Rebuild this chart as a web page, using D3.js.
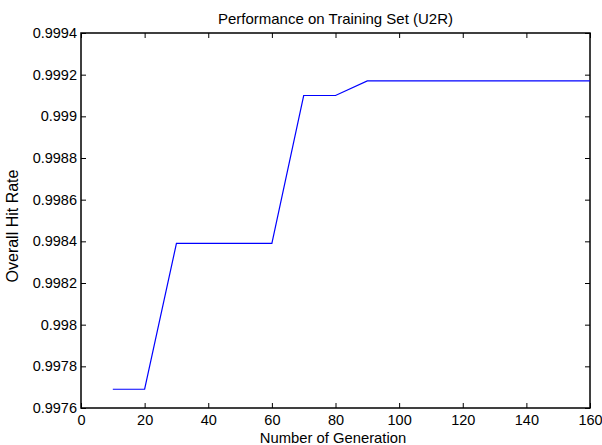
<!DOCTYPE html>
<html>
<head>
<meta charset="utf-8">
<script src="https://cdn.jsdelivr.net/npm/d3@7"></script>
<style>
  body { margin: 0; background: #fff; }
  svg { display: block; }
  text { font-family: "Liberation Sans", Arial, Helvetica, sans-serif; fill: #000; }
</style>
</head>
<body>
<svg id="chart" width="602" height="445"></svg>
<script>
// Best overall hit rate per generation
const generations = [10, 20, 30, 40, 50, 60, 70, 80, 90, 100, 110, 120, 130, 140, 150, 160];
const hitRates = [0.99769, 0.99769, 0.99839, 0.99839, 0.99839, 0.99839, 0.99910, 0.99910,
                  0.99917, 0.99917, 0.99917, 0.99917, 0.99917, 0.99917, 0.99917, 0.99917];
const xTicks = [0, 20, 40, 60, 80, 100, 120, 140, 160];
const yTicks = [0.9976, 0.9978, 0.998, 0.9982, 0.9984, 0.9986, 0.9988, 0.999, 0.9992, 0.9994];

const titleText = "Performance on Training Set (U2R)";
const xLabel = "Number of Generation";
const yLabel = "Overall Hit Rate";

const svg = d3.select("#chart");
const margin = { left: 81, right: 12, top: 33, bottom: 37 };
const W = 602, H = 445;
const x0 = margin.left, x1 = W - margin.right;
const y0 = H - margin.bottom, y1 = margin.top;

const x = d3.scaleLinear().domain([0, 160]).range([x0, x1]);
const y = d3.scaleLinear().domain([0.9976, 0.9994]).range([y0, y1]);

const fmtY = d => String(+d.toFixed(4));
const tickLen = 5;
const tickFont = 14.5;

// bottom axis (labels) and top axis (ticks only), ticks point inward
svg.append("g").attr("transform", `translate(0,${y0})`)
  .call(d3.axisBottom(x).tickValues(xTicks).tickSizeInner(-tickLen).tickSizeOuter(0).tickPadding(7))
  .call(g => g.select(".domain").remove())
  .call(g => g.selectAll("text").attr("font-size", tickFont))
  .call(g => g.selectAll("line").attr("stroke", "#000"));
svg.append("g").attr("transform", `translate(0,${y1})`)
  .call(d3.axisTop(x).tickValues(xTicks).tickSizeInner(-tickLen).tickSizeOuter(0).tickFormat(""))
  .call(g => g.select(".domain").remove())
  .call(g => g.selectAll("line").attr("stroke", "#000"));

// left axis (labels) and right axis (ticks only)
svg.append("g").attr("transform", `translate(${x0},0)`)
  .call(d3.axisLeft(y).tickValues(yTicks).tickSizeInner(-tickLen).tickSizeOuter(0).tickPadding(4).tickFormat(fmtY))
  .call(g => g.select(".domain").remove())
  .call(g => g.selectAll("text").attr("font-size", tickFont))
  .call(g => g.selectAll("line").attr("stroke", "#000"));
svg.append("g").attr("transform", `translate(${x1},0)`)
  .call(d3.axisRight(y).tickValues(yTicks).tickSizeInner(-tickLen).tickSizeOuter(0).tickFormat(""))
  .call(g => g.select(".domain").remove())
  .call(g => g.selectAll("line").attr("stroke", "#000"));

// frame
svg.append("rect")
  .attr("x", x0).attr("y", y1)
  .attr("width", x1 - x0).attr("height", y0 - y1)
  .attr("fill", "none").attr("stroke", "#000").attr("stroke-width", 1.5);

// series line
const line = d3.line().x((d, i) => x(generations[i])).y(d => y(d));
svg.append("path")
  .datum(hitRates)
  .attr("d", line)
  .attr("fill", "none")
  .attr("stroke", "#0000ff")
  .attr("stroke-width", 1.2);

// titles
svg.append("text")
  .attr("x", 335.5).attr("y", 24)
  .attr("text-anchor", "middle").attr("font-size", 15)
  .text(titleText);
svg.append("text")
  .attr("x", 333).attr("y", 443)
  .attr("text-anchor", "middle").attr("font-size", 14.8)
  .text(xLabel);
svg.append("text")
  .attr("transform", `translate(18,226) rotate(-90)`)
  .attr("text-anchor", "middle").attr("font-size", 16)
  .text(yLabel);
</script>
</body>
</html>
